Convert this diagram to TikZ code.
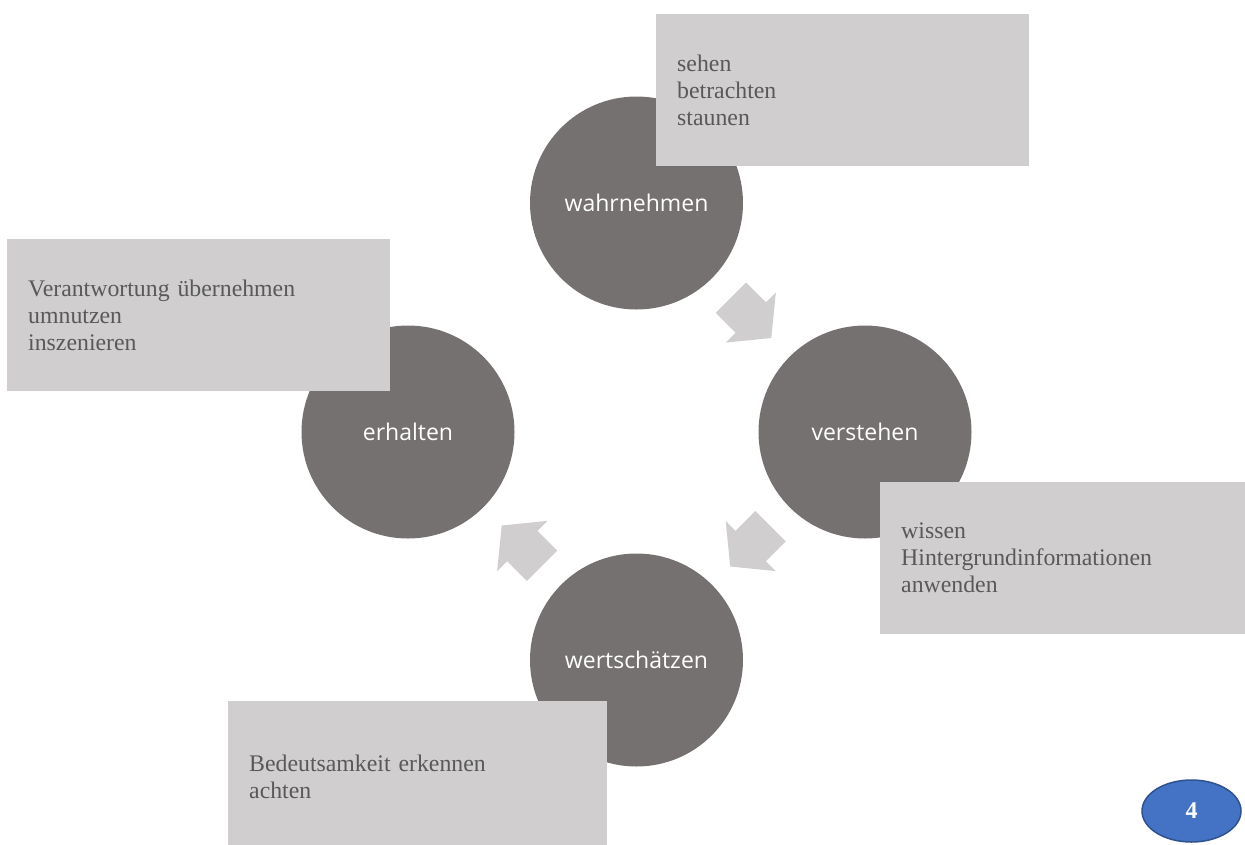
\documentclass[tikz,border=0pt]{standalone}
\usepackage{fontspec}
\setmainfont{Liberation Serif}
\newfontfamily\opensans{Open Sans}
\usetikzlibrary{calc,shapes.geometric}
\definecolor{circgray}{HTML}{767171}
\definecolor{boxgray}{HTML}{D0CECE}
\definecolor{boxtext}{HTML}{595959}
\definecolor{pageblue}{HTML}{4472C4}
\definecolor{pageblueline}{HTML}{2F528F}
\tikzset{
  stage/.style={circle, fill=circgray, minimum size=213pt, inner sep=0pt, text=white,
    font=\opensans\fontsize{23}{28}\selectfont},
  note/.style={rectangle, fill=boxgray, anchor=north west, minimum height=152pt,
    inner xsep=21pt, inner ysep=0pt, align=left, text=boxtext,
    font=\fontsize{23.8}{27}\selectfont},
  flowarrow/.pic={\fill[boxgray] (-28,21.5) -- (0,21.5) -- (0,35.5) -- (29,0)
    -- (0,-35.5) -- (0,-21.5) -- (-28,-21.5) -- cycle;}
}
\begin{document}
\begin{tikzpicture}[x=1pt, y=-1pt]
    \useasboundingbox (0,0) rectangle (1245,844);
    \node[stage] (wahr) at (636.5,203) {wahrnehmen};
    \node[stage] (vers) at (865,432) {verstehen};
    \node[stage] (wert) at (636.5,660) {wertschätzen};
    \node[stage] (erh) at (408,432) {erhalten};
    \pic[rotate=-45] at ($(wahr)!0.5!(vers)$) {flowarrow};
    \pic[rotate=-135] at ($(vers)!0.5!(wert)$) {flowarrow};
    \pic[rotate=135] at ($(wert)!0.5!(erh)$) {flowarrow};
    \node[note, text width=331pt] (wahrnote) at (656,14) {sehen\\betrachten\\staunen};
    \node[note, text width=341pt] (erhnote) at (7,239) {Verantwortung übernehmen\\umnutzen\\inszenieren};
    \node[note, text width=331pt] (versnote) at (880,482) {wissen\\Hintergrundinformationen\\anwenden};
    \node[note, text width=337pt] (wertnote) at (228,701) {Bedeutsamkeit erkennen\\achten};
    \node[ellipse, fill=pageblue, draw=pageblueline, line width=1.5pt, minimum width=99pt,
      minimum height=62pt, inner sep=0pt, text=white,
      font=\bfseries\fontsize{24}{28}\selectfont] (page) at (1191.5,811) {4};
\end{tikzpicture}
\end{document}
